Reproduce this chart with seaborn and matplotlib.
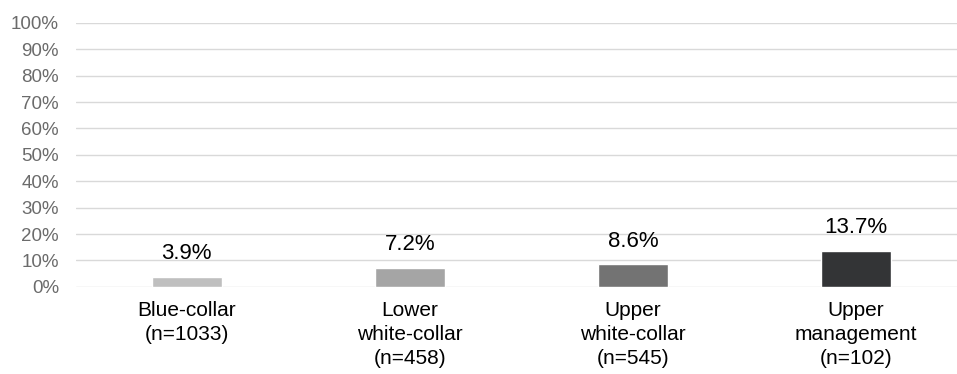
import seaborn as sns
import pandas as pd
from matplotlib import pyplot as plt

categories = ["Blue-collar\n(n=1033)", "Lower\nwhite-collar\n(n=458)",
              "Upper\nwhite-collar\n(n=545)", "Upper\nmanagement\n(n=102)"]
values = [3.9, 7.2, 8.6, 13.7]
colors = ["#bfbfbf", "#a5a5a5", "#737373", "#333436"]

sns.set_style("white")
plt.rcParams['font.family'] = ['Liberation Sans', 'DejaVu Sans']

df = pd.DataFrame({"group": categories, "pct": values})

fig = plt.figure(figsize=(9.57, 3.74), dpi=100)
ax = fig.add_axes([0.079, 0.233, 0.921, 0.706])
sns.barplot(data=df, x="group", y="pct", hue="group", palette=colors,
            width=0.314, legend=False, ax=ax, zorder=3)

for i, v in enumerate(values):
    ax.annotate(f"{v}%", (i, v), xytext=(0, 9), textcoords="offset points",
                ha="center", va="bottom", fontsize=16, color="black")

ax.set_xlim(-0.498, 3.452)
ax.set_ylim(0, 100)
ax.set_yticks(range(0, 101, 10))
ax.set_yticklabels([f"{t}%" for t in range(0, 101, 10)], fontsize=13.5, color="#6b6b6b")
ax.tick_params(axis="x", length=0, pad=10)
for lab in ax.get_xticklabels():
    lab.set_fontsize(15)
    lab.set_color("black")
    lab.set_linespacing(1.35)
ax.tick_params(axis="y", length=0, pad=12)
ax.yaxis.grid(True, color="#d9d9d9", linewidth=1, zorder=0)
ax.set_axisbelow(True)
for s in ax.spines.values():
    s.set_visible(False)
ax.set_xlabel("")
ax.set_ylabel("")

fig.savefig("out.png", dpi=100)
